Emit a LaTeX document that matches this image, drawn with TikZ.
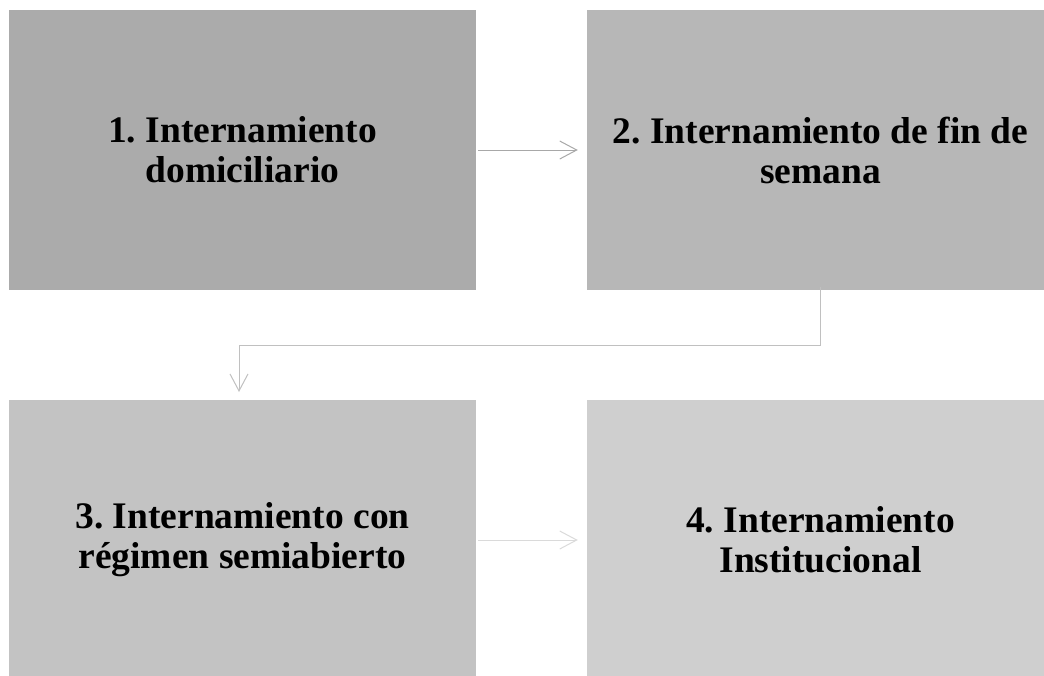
\documentclass[tikz,border=0pt]{standalone}
\usepackage{fontspec}
\setmainfont{Liberation Serif}
\usetikzlibrary{arrows.meta}
\definecolor{cA}{HTML}{ABABAB}
\definecolor{cB}{HTML}{B7B7B7}
\definecolor{cC}{HTML}{C3C3C3}
\definecolor{cD}{HTML}{CFCFCF}
\definecolor{aA}{HTML}{A8A8A8}
\definecolor{aB}{HTML}{C0C0C0}
\definecolor{aC}{HTML}{DADADA}
\frenchspacing
\begin{document}
\begin{tikzpicture}[x=1pt,y=-1pt,
  box/.style={minimum width=467pt,minimum height=280pt,inner sep=0pt,align=center,
    font=\bfseries\fontsize{37.5}{40}\selectfont},
  conn/.style={line width=1pt,-{Straight Barb[length=17pt,width=18pt,line width=1pt]}}]
\useasboundingbox (0,0) rectangle (1044,675);
\begin{scope}
\clip (0,0) rectangle (1044,675);
\node[box,fill=cA] (b1) at (242.5,150) {1. Internamiento\\domiciliario};
\node[box,fill=cB] (b2) at (820.5,150) {2. Internamiento de fin de\\semana};
\node[box,fill=cC] (b3) at (242.5,540) {3. Internamiento con\\régimen semiabierto};
\node[box,fill=cD] (b4) at (820.5,540) {4. Internamiento\\Institucional};
\end{scope}
\coordinate (s1) at ([xshift=2pt]b1.east);
\coordinate (e1) at ([xshift=-9pt]b2.west);
\draw[conn,aA] (s1) -- (e1);
\coordinate (s2) at ([yshift=3pt]b2.south);
\coordinate (m2) at (239,345);
\coordinate (e2) at (239,392);
\draw[conn,aB] (s2) |- (m2) -- (e2);
\coordinate (s3) at ([xshift=2pt]b3.east);
\coordinate (e3) at ([xshift=-9pt]b4.west);
\draw[conn,aC] (s3) -- (e3);
\end{tikzpicture}
\end{document}
